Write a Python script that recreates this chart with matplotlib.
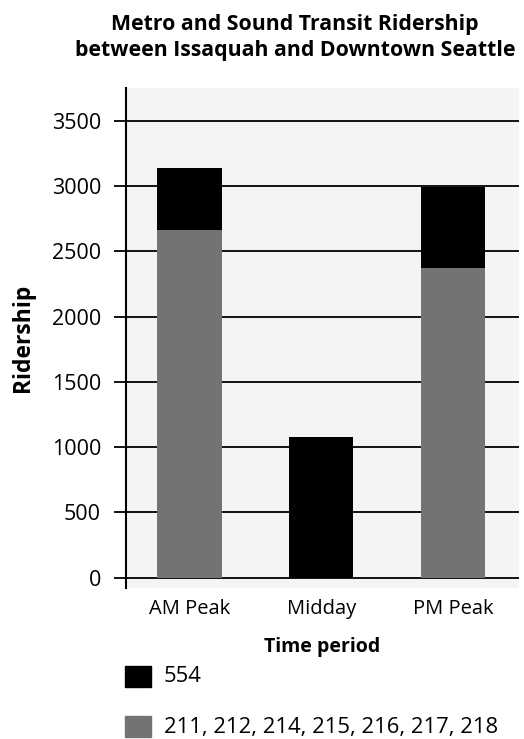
import matplotlib
matplotlib.use("Agg")
import matplotlib.pyplot as plt
from matplotlib.patches import Rectangle

plt.rcParams['font.family'] = ['Open Sans', 'DejaVu Sans']

categories = ["AM Peak", "Midday", "PM Peak"]
routes_local = [2660, 0, 2370]        # 211, 212, 214, 215, 216, 217, 218
route_554 = [480, 1080, 620]          # 554
series_labels = ["554", "211, 212, 214, 215, 216, 217, 218"]
yticks = [0, 500, 1000, 1500, 2000, 2500, 3000, 3500]

title = "Metro and Sound Transit Ridership\nbetween Issaquah and Downtown Seattle"

black = "#000000"
gray = "#737373"

fig = plt.figure(figsize=(5.24, 7.39), dpi=100)
ax = fig.add_axes([126/524, (739-588)/739, (519-126)/524, 500/739])
ax.set_facecolor("#f4f4f4")

x = list(range(len(categories)))
ax.bar(x, routes_local, width=0.49, color=gray, zorder=3)
ax.bar(x, route_554, width=0.49, bottom=routes_local, color=black, zorder=3)

ax.set_xlim(-0.48, 2.5)
ax.set_ylim(-79, 3750)
ax.set_yticks(yticks)
ax.set_yticklabels([str(v) for v in yticks], fontsize=15.5)
for v in yticks:
    ax.axhline(v, color="black", lw=1.3, zorder=2)
ax.tick_params(axis='y', length=9, width=1.3, direction='out', pad=9)
ax.tick_params(axis='x', length=0, pad=8, labelsize=14.5)
ax.set_xticks(x)
ax.set_xticklabels(categories)

for s in ["top", "right", "bottom"]:
    ax.spines[s].set_visible(False)
ax.spines["left"].set_linewidth(1.5)

ax.set_ylabel("Ridership", fontsize=16.5, fontweight='bold', labelpad=12)
ax.set_xlabel("Time period", fontsize=14, fontweight='bold', labelpad=13)

fig.text(0.563, 0.949, title, ha='center', va='center', fontsize=15.3,
         fontweight='bold', linespacing=1.3)

# legend
colors = [black, gray]
ys = [677, 727]
for c, lab, yc in zip(colors, series_labels, ys):
    fig.patches.append(Rectangle((125/524, (739-yc-10)/739), 26/524, 21/739,
                                 transform=fig.transFigure, color=c))
    fig.text(164/524, (739-yc)/739, lab, ha='left', va='center', fontsize=15.8)

fig.savefig("out.png", dpi=100)
